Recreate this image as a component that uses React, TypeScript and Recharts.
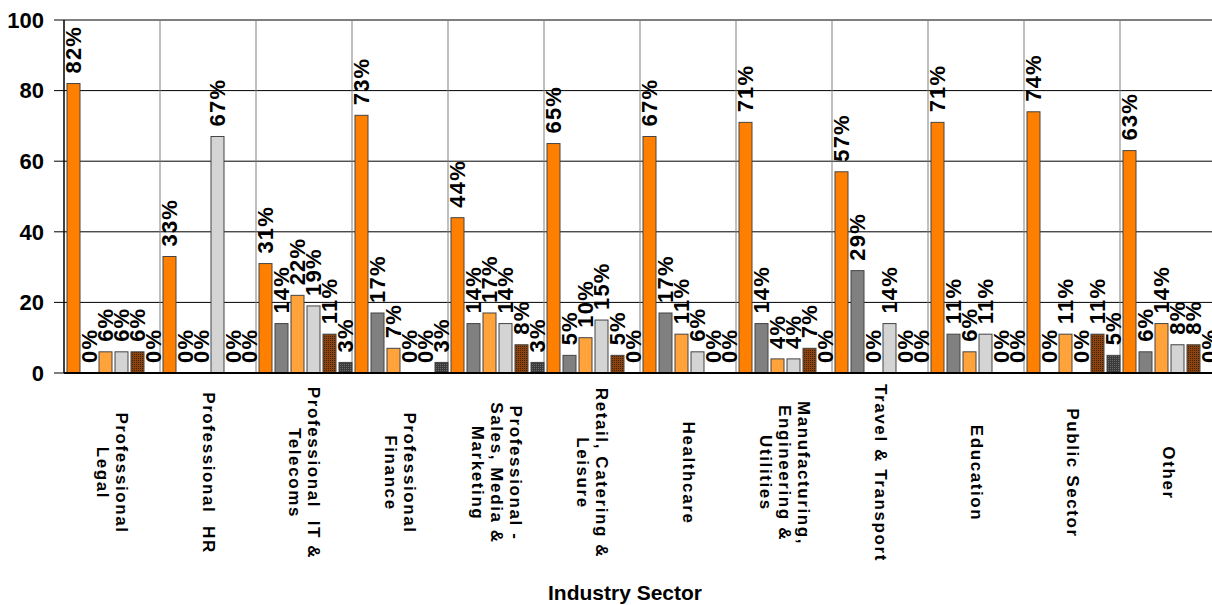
import React from "react"
import { BarChart, Bar, XAxis, YAxis, CartesianGrid, Label } from "recharts"

const categories = [
  "Professional\nLegal",
  "Professional  HR",
  "Professional  IT &\nTelecoms",
  "Professional\nFinance",
  "Professional -\nSales, Media &\nMarketing",
  "Retail, Catering &\nLeisure",
  "Healthcare",
  "Manufacturing,\nEngineering &\nUtilities",
  "Travel & Transport",
  "Education",
  "Public Sector",
  "Other",
]

const seriesA = [82, 33, 31, 73, 44, 65, 67, 71, 57, 71, 74, 63]
const seriesB = [0, 0, 14, 17, 14, 5, 17, 14, 29, 11, 0, 6]
const seriesC = [6, 0, 22, 7, 17, 10, 11, 4, 0, 6, 11, 14]
const seriesD = [6, 67, 19, 0, 14, 15, 6, 4, 14, 11, 0, 8]
const seriesE = [6, 0, 11, 0, 8, 5, 0, 7, 0, 0, 11, 8]
const seriesF = [0, 0, 3, 3, 3, 0, 0, 0, 0, 0, 5, 0]

const yTicks = [0, 20, 40, 60, 80, 100]

const data = categories.map((name, i) => ({
  name,
  a: seriesA[i],
  b: seriesB[i],
  c: seriesC[i],
  d: seriesD[i],
  e: seriesE[i],
  f: seriesF[i],
}))

const FONT = "'Liberation Sans', Arial, sans-serif"

// bar + its rotated % label (drawn here so zero bars get a label too)
function LabeledBar(props: any) {
  const { x, y, width, height, fill, value } = props
  const v = Array.isArray(value) ? value[1] - value[0] : value
  const cx = Number(x) + Number(width) / 2
  const top = Number(y) - 10
  return (
    <g>
      {height > 0 && (
        <rect x={x} y={y} width={width} height={height} fill={fill} stroke="#444" strokeWidth={1} />
      )}
      <text
        transform={`translate(${cx},${top}) rotate(-90)`}
        textAnchor="start"
        dominantBaseline="central"
        fontFamily={FONT}
        fontWeight="bold"
        fontSize={22}
        letterSpacing={1.2}
        fill="#000"
      >
        {v}%
      </text>
    </g>
  )
}

function SectorTick(props: any) {
  const { x, y, payload } = props
  const lines = String(payload.value).split("\n")
  const lh = 19
  const n = lines.length
  return (
    <g transform={`translate(${x},${y + 100})`}>
      <text
        transform="rotate(90)"
        textAnchor="middle"
        fontFamily={FONT}
        fontWeight="bold"
        fontSize={17}
        letterSpacing={1.6}
        fill="#000"
        style={{ whiteSpace: "pre" }}
      >
        {lines.map((l, i) => (
          <tspan key={i} x={0} y={(i - (n - 1) / 2) * lh} dominantBaseline="central">
            {l}
          </tspan>
        ))}
      </text>
    </g>
  )
}

const bars = [
  { key: "a", fill: "#FF8000" },
  { key: "b", fill: "#808080" },
  { key: "c", fill: "#FFA33A" },
  { key: "d", fill: "#D4D4D4" },
  { key: "e", fill: "url(#brownCheck)" },
  { key: "f", fill: "url(#darkCheck)" },
]

export default function App() {
  return (
    <div style={{ position: "absolute", left: 0, top: 0, width: 1212, height: 605, overflow: "hidden", background: "#fff" }}>
      <BarChart
        width={1220}
        height={605}
        data={data}
        margin={{ top: 20, right: 4, left: 0, bottom: 0 }}
        barCategoryGap={3}
        barGap={3}
      >
        <defs>
          <pattern id="brownCheck" width="2" height="2" patternUnits="userSpaceOnUse">
            <rect width="2" height="2" fill="#8A4510" />
            <rect width="1" height="1" fill="#4A2000" />
          </pattern>
          <pattern id="darkCheck" width="2" height="2" patternUnits="userSpaceOnUse">
            <rect width="2" height="2" fill="#3A3A3A" />
            <rect width="1" height="1" fill="#6A6A6A" />
          </pattern>
        </defs>
        <CartesianGrid stroke="#000" strokeWidth={1} vertical={false} />
        <CartesianGrid
          stroke="#808080"
          horizontal={false}
          verticalCoordinatesGenerator={({ offset }: any) =>
            categories.slice(1).map((_, i) => offset.left + ((i + 1) * offset.width) / categories.length)
          }
        />
        <XAxis
          dataKey="name"
          interval={0}
          height={232}
          tickSize={0}
          tickMargin={0}
          tickLine={false}
          axisLine={{ stroke: "#000", strokeWidth: 2 }}
          tick={<SectorTick />}
        >
          <Label
            value="Industry Sector"
            position="insideBottom"
            offset={5}
            dx={-15}
            style={{ fontFamily: FONT, fontWeight: "bold", fontSize: 21, fill: "#000" }}
          />
        </XAxis>
        <YAxis
          width={64}
          domain={[0, 100]}
          ticks={yTicks}
          interval={0}
          tickSize={10}
          tickMargin={10}
          axisLine={{ stroke: "#000", strokeWidth: 1.5 }}
          tickLine={{ stroke: "#000" }}
          tick={{ fontFamily: FONT, fontWeight: "bold", fontSize: 22, fill: "#000" }}
        />
        {bars.map((b) => (
          <Bar key={b.key} dataKey={b.key} fill={b.fill} isAnimationActive={false} shape={<LabeledBar />} />
        ))}
      </BarChart>
    </div>
  )
}
